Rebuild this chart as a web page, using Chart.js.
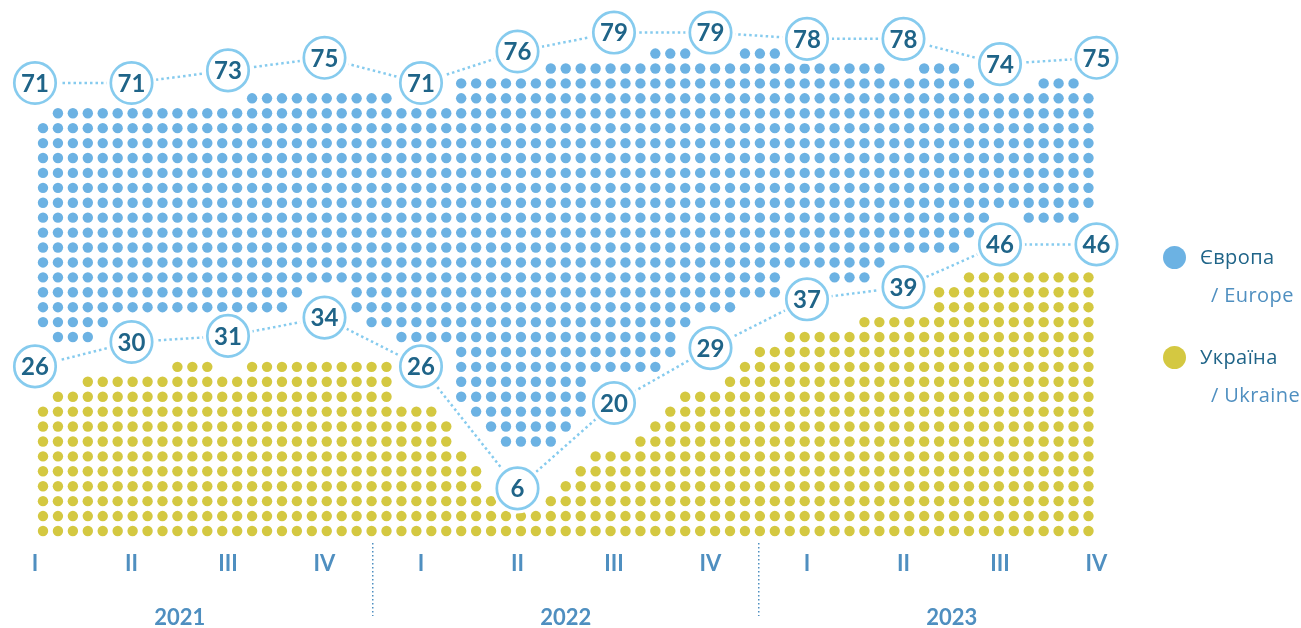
<!DOCTYPE html>
<html lang="uk">
<head>
<meta charset="utf-8">
<title>Європа / Україна</title>
<script src="https://cdn.jsdelivr.net/npm/chart.js@4"></script>
<style>
  html, body { margin: 0; padding: 0; background: #fff; }
  #wrap { position: relative; width: 1301px; height: 628px; overflow: hidden; font-family: "Open Sans", Lato, sans-serif; }
  .swatch { position: absolute; left: 1163px; width: 23px; height: 23px; border-radius: 50%; }
  .ua { position: absolute; left: 1200px; font-size: 20px; line-height: 24px; letter-spacing: 0.4px; color: #1f6488; white-space: nowrap; }
  .en { position: absolute; left: 1211px; font-size: 20px; line-height: 24px; letter-spacing: 0.4px; color: #4f8fc0; white-space: nowrap; }
</style>
</head>
<body>
<div id="wrap">
  <canvas id="chart" width="1301" height="628"></canvas>
  <div class="swatch" style="top:246px;background:#6cb2e3"></div>
  <div class="ua" style="top:245px">Європа</div>
  <div class="en" style="top:283px">/ Europe</div>
  <div class="swatch" style="top:346px;background:#d4c841"></div>
  <div class="ua" style="top:345px">Україна</div>
  <div class="en" style="top:383px">/ Ukraine</div>
</div>
<script>
// values in the circles, one per quarter
const quarterLabels = ['I', 'II', 'III', 'IV', 'I', 'II', 'III', 'IV', 'I', 'II', 'III', 'IV'];
const years = ['2021', '2022', '2023'];
const europeValues = [71, 71, 73, 75, 71, 76, 79, 79, 78, 78, 74, 75];
const ukraineValues = [26, 30, 31, 34, 26, 6, 20, 29, 37, 39, 46, 46];

// dot columns, counted off the picture (row 0 is the bottom row)
const ukraineHeights = [
  9, 10, 10, 11, 11, 11, 11, 11, 11, 12,
  12, 12, 11, 11, 12, 12, 12, 12, 12, 12,
  12, 12, 12, 12, 9, 9, 9, 8, 6, 5,
  3, 2, 2, 2, 3, 4, 5, 6, 6, 6,
  7, 8, 9, 10, 10, 10, 11, 12, 13, 13,
  14, 14, 14, 14, 14, 15, 15, 15, 15, 15,
  17, 17, 18, 18, 18, 18, 18, 18, 18, 18, 18
];
const europeBottomRows = [
  14, 13, 13, 13, 14, 15, 15, 15, 15, 15,
  15, 15, 15, 15, 15, 15, 15, 16, 17, 17,
  17, 15, 14, 14, 13, 13, 13, 13, 9, 8,
  7, 6, 6, 6, 6, 7, 8, 11, 11, 11,
  11, 11, 12, 14, 15, 15, 15, 16, 16, 16,
  18, 18, 18, 17, 17, 17, 18, 19, 19, 19,
  19, 19, 20, 21, 22, 22, 21, 21, 21, 21, 22
];
const europeTopRows = [
  27, 28, 28, 28, 28, 28, 28, 28, 28, 28,
  28, 28, 28, 28, 29, 29, 29, 29, 29, 29,
  29, 29, 29, 29, 28, 28, 28, 28, 30, 30,
  30, 30, 30, 30, 31, 31, 31, 31, 31, 31,
  31, 32, 32, 32, 31, 31, 31, 32, 32, 32,
  31, 31, 31, 31, 31, 31, 31, 30, 30, 31,
  31, 31, 30, 29, 29, 29, 29, 30, 30, 30, 29
];

const COLOR_EUROPE = '#6cb2e3';
const COLOR_UKRAINE = '#d4c841';
const COLOR_RING = '#86cbee';
const COLOR_VALUE = '#1f6488';
const COLOR_AXIS = '#4f8fc0';
const FONT = 'Lato, "Open Sans", sans-serif';

function ukraineDots() {
  const points = [];
  ukraineHeights.forEach((height, col) => {
    for (let row = 0; row < height; row++) points.push({ x: col, y: row });
  });
  return points;
}

function europeDots() {
  const points = [];
  europeTopRows.forEach((top, col) => {
    for (let row = europeBottomRows[col]; row <= top; row++) points.push({ x: col, y: row });
  });
  return points;
}

function dotDataset(data, color) {
  return {
    data: data,
    xAxisID: 'x',
    yAxisID: 'y',
    order: 10,
    showLine: false,
    pointRadius: 5.2,
    pointBackgroundColor: color,
    pointBorderWidth: 0
  };
}

// dotted line plus a white halo, so the line stops short of the circle
function lineDataset(values, yAxisID) {
  return {
    data: values.map((v, i) => ({ x: i, y: v })),
    xAxisID: 'xq',
    yAxisID: yAxisID,
    order: 5,
    showLine: true,
    borderColor: COLOR_RING,
    borderWidth: 2.5,
    borderDash: [2.5, 3],
    pointRadius: 25,
    pointBackgroundColor: '#fff',
    pointBorderWidth: 0
  };
}

function circleDataset(values, yAxisID) {
  return {
    isCircle: true,
    data: values.map((v, i) => ({ x: i, y: v })),
    xAxisID: 'xq',
    yAxisID: yAxisID,
    order: 1,
    showLine: false,
    pointRadius: 20.7,
    pointBackgroundColor: '#fff',
    pointBorderColor: COLOR_RING,
    pointBorderWidth: 2.7
  };
}

const circleLabels = {
  id: 'circleLabels',
  afterDatasetsDraw(chart) {
    const ctx = chart.ctx;
    ctx.save();
    ctx.font = '700 24px ' + FONT;
    ctx.fillStyle = COLOR_VALUE;
    ctx.textAlign = 'center';
    ctx.textBaseline = 'middle';
    chart.data.datasets.forEach((ds, i) => {
      if (!ds.isCircle) return;
      chart.getDatasetMeta(i).data.forEach((pt, j) => {
        ctx.fillText(String(ds.data[j].y), pt.x, pt.y + 1);
      });
    });
    ctx.restore();
  }
};

// dotted separators between the years, below the plot
const yearDividers = {
  id: 'yearDividers',
  afterDraw(chart) {
    const ctx = chart.ctx;
    const scale = chart.scales.xq;
    ctx.save();
    ctx.strokeStyle = COLOR_AXIS;
    ctx.lineWidth = 1.5;
    ctx.setLineDash([1.5, 2.5]);
    [3.5, 7.5].forEach(v => {
      const px = scale.getPixelForValue(v);
      ctx.beginPath();
      ctx.moveTo(px, 543);
      ctx.lineTo(px, 616);
      ctx.stroke();
    });
    ctx.restore();
  }
};

function hiddenAxis(min, max) {
  return { type: 'linear', display: false, min: min, max: max };
}

new Chart(document.getElementById('chart'), {
  type: 'scatter',
  data: {
    datasets: [
      dotDataset(europeDots(), COLOR_EUROPE),
      dotDataset(ukraineDots(), COLOR_UKRAINE),
      lineDataset(europeValues, 'yEurope'),
      lineDataset(ukraineValues, 'yUkraine'),
      circleDataset(europeValues, 'yEurope'),
      circleDataset(ukraineValues, 'yUkraine')
    ]
  },
  options: {
    responsive: false,
    animation: false,
    // the big circles would otherwise push the plot in from the canvas edge
    layout: { padding: 0, autoPadding: false },
    plugins: { legend: { display: false }, tooltip: { enabled: false } },
    scales: {
      x: hiddenAxis(-2.879, 84.23),
      y: hiddenAxis(-0.94, 35.59),
      yEurope: hiddenAxis(-2.33, 84.17),
      yUkraine: hiddenAxis(-3.28, 86.07),
      xq: {
        type: 'linear',
        position: 'bottom',
        min: -0.3627,
        max: 13.1192,
        grid: { display: false, drawTicks: false },
        border: { display: false },
        afterBuildTicks: axis => { axis.ticks = quarterLabels.map((_, i) => ({ value: i })); },
        afterFit: axis => { axis.height = 45; },
        ticks: {
          autoSkip: false,
          maxRotation: 0,
          padding: 6,
          color: COLOR_AXIS,
          font: { family: FONT, size: 22, weight: '700' },
          callback: value => quarterLabels[value]
        }
      },
      xYear: {
        type: 'linear',
        position: 'bottom',
        min: -0.3627,
        max: 13.1192,
        grid: { display: false, drawTicks: false },
        border: { display: false },
        afterBuildTicks: axis => { axis.ticks = years.map((_, i) => ({ value: 1.5 + i * 4 })); },
        afterFit: axis => { axis.height = 38; },
        ticks: {
          autoSkip: false,
          maxRotation: 0,
          padding: 15,
          color: COLOR_AXIS,
          font: { family: FONT, size: 22, weight: '700' },
          callback: value => years[(value - 1.5) / 4]
        }
      }
    }
  },
  plugins: [circleLabels, yearDividers]
});
</script>
</body>
</html>
